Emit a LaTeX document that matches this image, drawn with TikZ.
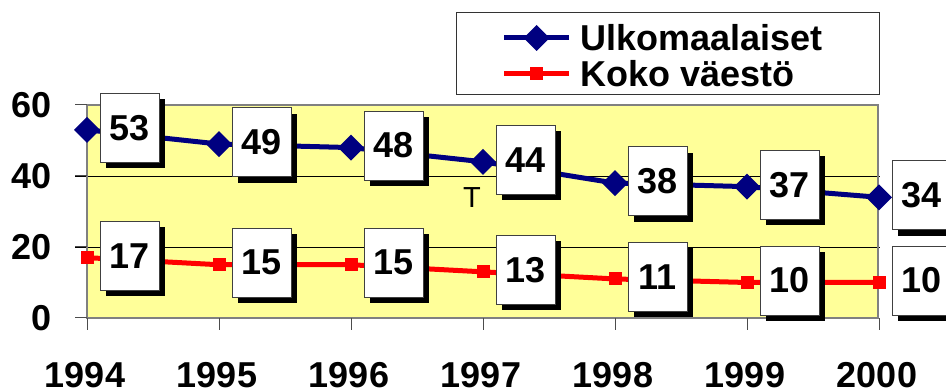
\documentclass[tikz,border=0pt]{standalone}
\usepackage{fontspec}
\setmainfont{Liberation Sans}
\usetikzlibrary{shadows}
\definecolor{navyline}{HTML}{000080}
\definecolor{plotbg}{HTML}{FFFF99}
\tikzset{
  valbox/.style={draw=black!75, line width=0.8pt, fill=white, minimum width=59pt, minimum height=69pt, inner sep=0pt, anchor=west,
    font=\fontsize{36}{40}\selectfont\bfseries,
    drop shadow={shadow xshift=6pt, shadow yshift=-6pt, opacity=1, fill=black}},
  axlab/.style={font=\fontsize{36}{40}\selectfont\bfseries, inner sep=0pt},
  ulkoline/.style={navyline, line width=5pt},
  kokoline/.style={red, line width=5pt},
  grid line/.style={black, line width=0.8pt},
  tickline/.style={black!70, line width=1pt},
}
\newcommand{\dia}[2]{\fill[navyline] (#1-13,#2) -- (#1,#2-13) -- (#1+13,#2) -- (#1,#2+13) -- cycle;}
\newcommand{\sqr}[2]{\fill[red] (#1-6.5,#2-6.5) rectangle (#1+6.5,#2+6.5);}
\begin{document}
\begin{tikzpicture}[x=1pt,y=-1pt]
\useasboundingbox (0,0) rectangle (946,390);
% plot area
\fill[plotbg] (87,105) rectangle (878,318);
\draw[grid line] (75,176) -- (880,176);
\draw[grid line] (75,247) -- (880,247);
\draw[black!50, line width=1.5pt] (87,105) rectangle (878,318);
\foreach \v in {0,20,40,60} {\draw[tickline] (75,{318-3.55*\v}) -- (87,{318-3.55*\v});}
\foreach \i in {0,...,6} {\draw[tickline] ({87+132*\i},318) -- ({87+132*\i},330);}
% y labels
\node[axlab, anchor=east] (y60) at (52,105) {60};
\node[axlab, anchor=east] (y40) at (52,176) {40};
\node[axlab, anchor=east] (y20) at (52,247) {20};
\node[axlab, anchor=east] (y0) at (52,318) {0};
% x labels
\foreach \yr [count=\i from 0] in {1994,1995,1996,1997,1998,1999,2000} {
  \node[axlab, anchor=base] (yr\yr) at ({85+132*\i},388) {\yr};
}
% data coordinates
\foreach \v [count=\i from 0] in {53,49,48,44,38,37,34} {\coordinate (u\i) at ({87+132*\i},{318-3.55*\v});}
\foreach \v [count=\i from 0] in {17,15,15,13,11,10,10} {\coordinate (k\i) at ({87+132*\i},{318-3.55*\v});}
\draw[ulkoline] (u0) -- (u1) -- (u2) -- (u3) -- (u4) -- (u5) -- (u6);
\draw[kokoline] (k0) -- (k1) -- (k2) -- (k3) -- (k4) -- (k5) -- (k6);
\foreach \v [count=\i from 0] in {53,49,48,44,38,37,34} {\dia{87+132*\i}{318-3.55*\v}}
\foreach \v [count=\i from 0] in {17,15,15,13,11,10,10} {\sqr{87+132*\i}{318-3.55*\v}}
% value boxes
\foreach \v [count=\i from 0] in {53,49,48,44,38,37,34} {\node[valbox] (ub\i) at ({100+132*\i},{316-3.55*\v}) {\v};}
\foreach \v [count=\i from 0] in {17,15,15,13,11,10,10} {\node[valbox] (kb\i) at ({100+132*\i},{316-3.55*\v}) {\v};}
% T
\node[font=\fontsize{29}{32}\selectfont, inner sep=0pt] (tlabel) at (472,198) {T};
% legend
\draw[black!80, line width=1pt, fill=white] (456,13) rectangle (879,95);
\coordinate (lu1) at (504,38); \coordinate (lu2) at (569,38);
\coordinate (lk1) at (504,74); \coordinate (lk2) at (569,74);
\draw[ulkoline] (lu1) -- (lu2);
\dia{536.5}{38}
\draw[kokoline] (lk1) -- (lk2);
\sqr{536.5}{74}
\node[axlab, anchor=base west] (leg1) at (580,51) {Ulkomaalaiset};
\node[axlab, anchor=base west] (leg2) at (580,87) {Koko väestö};
\end{tikzpicture}
\end{document}
